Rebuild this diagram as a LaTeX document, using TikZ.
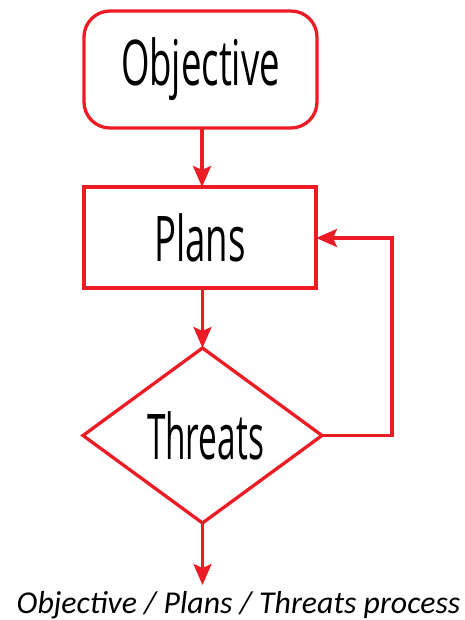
\documentclass[tikz,border=0pt]{standalone}
\usepackage{fontspec}
\setmainfont{Carlito}
\newfontfamily\labelfont[FakeStretch=0.58]{Open Sans}
\newfontfamily\narrowlabelfont[FakeStretch=0.53]{Open Sans}
\usetikzlibrary{shapes.geometric,arrows.meta}
\definecolor{flowred}{RGB}{237,28,36}
\tikzset{
  flowline/.style={draw=flowred, line width=3.3pt},
  flowarrow/.style={flowline, -{Stealth[length=21pt,width=18pt,inset=4pt]}},
  boxlabel/.style={font=\labelfont\fontsize{63}{70}\selectfont, text=black, inner sep=0pt, outer sep=0pt},
}
\begin{document}
\begin{tikzpicture}[x=1pt,y=-1pt]
\useasboundingbox[fill=white] (0,0) rectangle (465,620);
\node[boxlabel, flowline, rounded corners=26pt, minimum width=233pt, minimum height=117pt] (obj) at (200.5,69.5) {Objective};
\node[boxlabel, flowline, minimum width=232pt, minimum height=101pt] (plans) at (200,237.5) {Plans};
\node[boxlabel, flowline, diamond, minimum width=239pt, minimum height=175pt, font=\narrowlabelfont\fontsize{63}{70}\selectfont] (thr) at (202.5,435.5) {\hspace*{6pt}Threats};
\coordinate (turn1) at (392,435.5);
\coordinate (turn2) at (392,238);
\coordinate (out) at (202.5,585);
\draw[flowarrow] (obj.south -| 202,0) -- (plans.north -| 202,0);
\draw[flowarrow] (plans.south -| 202.5,0) -- (thr.north);
\draw[flowarrow] (thr.east) -- (turn1) -- (turn2) -- (plans.east |- turn2);
\draw[flowarrow] (thr.south) -- (out);
\node[font=\itshape\fontsize{31.8}{38}\selectfont, anchor=base, inner sep=0pt] (cap) at (238.5,613) {Objective / Plans / Threats process};
\end{tikzpicture}
\end{document}
